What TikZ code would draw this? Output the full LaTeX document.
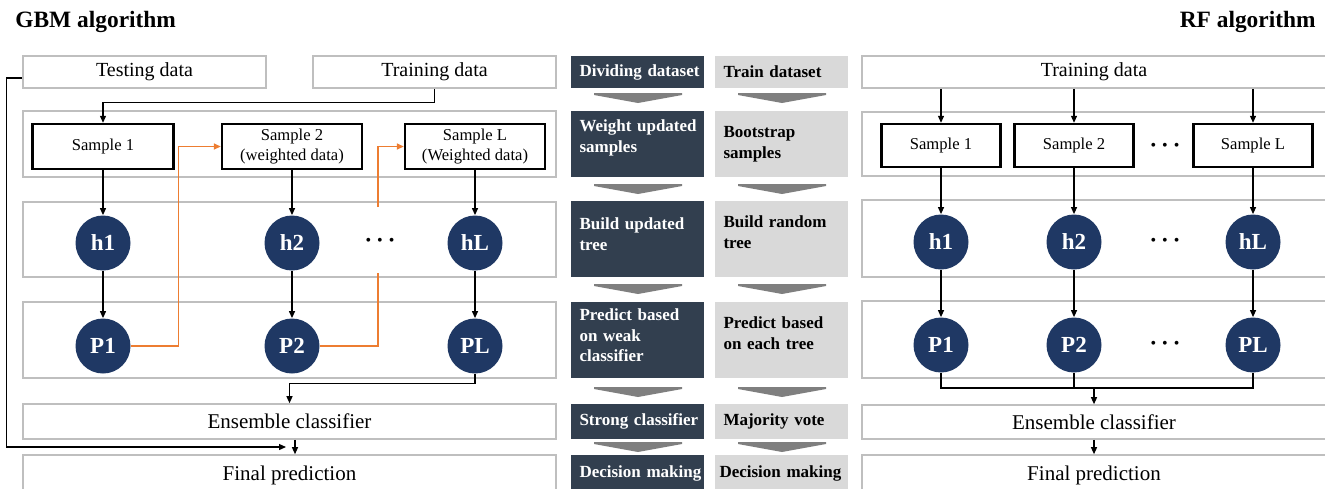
\documentclass[tikz,border=0pt]{standalone}
\usepackage{fontspec}
\setmainfont{Liberation Serif}
\usetikzlibrary{positioning}
\usetikzlibrary{arrows.meta}
\definecolor{navy}{HTML}{1F3864}
\definecolor{slate}{HTML}{323F4F}
\definecolor{lgray}{HTML}{D9D9D9}
\definecolor{pgray}{HTML}{BFBFBF}
\definecolor{orng}{HTML}{ED7D31}
\definecolor{chevgray}{HTML}{7F7F7F}
\tikzset{
    panel/.style = {rectangle, draw=pgray, line width=0.8pt, inner sep=0pt, font=\fontsize{10}{12}\selectfont},
    sample/.style = {rectangle, draw=black, line width=1.2pt, inner sep=0pt, align=center, font=\fontsize{8.3}{10}\selectfont},
    mynode/.style = {circle, fill=navy, text=white, minimum size=27.5pt, inner sep=0pt, font=\fontsize{11.5}{12}\selectfont\bfseries},
    darkbox/.style = {rectangle, fill=slate, minimum width=66.5pt, inner sep=0pt},
    lightbox/.style = {darkbox, fill=lgray},
    dtxt/.style = {text=white, inner sep=0pt, xshift=2pt, text width=62pt, align=left, font=\fontsize{8.5}{10.3}\selectfont\bfseries},
    ltxt/.style = {dtxt, text=black},
    chev/.style = {fill=chevgray, draw=none},
    dots/.style = {inner sep=0pt, font=\fontsize{8}{8}\selectfont},
    title/.style = {inner sep=0pt, font=\fontsize{11.7}{13}\selectfont\bfseries},
    edgen/.style = {-{Triangle[length=3.5pt,width=3pt]}, line width=0.6pt},
    linen/.style = {line width=0.6pt},
    edgeo/.style = {-{Triangle[length=3.5pt,width=3pt]}, line width=0.8pt, orng},
    lineo/.style = {line width=0.8pt, orng}
}
\newcommand{\bdots}{\textbullet\hspace{3pt}\textbullet\hspace{3pt}\textbullet}

\begin{document}
\begin{tikzpicture}[x=0.5pt,y=-0.5pt]
\useasboundingbox (0,0) rectangle (1325,488);
\node[title, anchor=base west] (gbm) at (15,27) {GBM algorithm};
\node[title, anchor=base east] (rf) at (1316,27) {RF algorithm};
%
% GBM side
\node[panel, minimum width=121.5pt, minimum height=16pt] (test) at (144.5,72) {Testing data};
\node[panel, minimum width=121.5pt, minimum height=16pt] (train) at (434.5,72) {Training data};
\node[panel, minimum width=266.5pt, minimum height=33pt] (grow1) at (289.5,144) {};
\node[panel, minimum width=266.5pt, minimum height=37.5pt] (grow2) at (289.5,239.5) {};
\node[panel, minimum width=266.5pt, minimum height=38pt] (grow3) at (289.5,340) {};
\node[panel, minimum width=266.5pt, minimum height=17.5pt, font=\fontsize{10.5}{12}\selectfont] (ens) at (289.5,421.5) {Ensemble classifier};
\node[panel, minimum width=266.5pt, minimum height=20pt, font=\fontsize{10.5}{12}\selectfont] (final) at (289.5,475) {Final prediction};
\node[sample, minimum width=70.5pt, minimum height=22.5pt] (s1) at (103,146.5) {Sample 1};
\node[sample, minimum width=70pt, minimum height=22.5pt] (s2) at (292,146.5) {Sample 2\\(weighted data)};
\node[sample, minimum width=70pt, minimum height=22.5pt] (sL) at (475,146.5) {Sample L\\(Weighted data)};
\node[mynode] (h1) at (103,243) {h1};
\node[mynode] (h2) at (292,243) {h2};
\node[mynode] (hL) at (475,243) {hL};
\node[dots] (gdots) at (380,242) {\bdots};
\node[mynode] (P1) at (103,346) {P1};
\node[mynode] (P2) at (292,346) {P2};
\node[mynode] (PL) at (475,346) {PL};
%
\coordinate (tend) at (286,447);
\coordinate (ogapb) at (378,273);
\coordinate (ogapt) at (378,207);
\draw[edgen] (train.south) -- ++(0,14) -| (s1.north);
\draw[edgen] ([yshift=-3pt]test.west) -- ++(-16,0) |- (tend);
\draw[edgen] (s1.south) -- (h1.north);
\draw[edgen] (s2.south) -- (h2.north);
\draw[edgen] (sL.south) -- (hL.north);
\draw[edgen] (h1.south) -- (P1.north);
\draw[edgen] (h2.south) -- (P2.north);
\draw[edgen] (hL.south) -- (PL.north);
\draw[edgeo] (P1.east) -- ++(47.5,0) |- (s2.west);
\draw[lineo] (P2.east) -| (ogapb);
\draw[edgeo] (ogapt) |- (sL.west);
\draw[edgen] (PL.south) -- ++(0,9.5) -| (ens.north);
\draw[edgen] ([xshift=2.75pt]ens.south) -- ([xshift=2.75pt]final.north);
%
% step columns
\node[darkbox, minimum height=16pt, label={[dtxt]center:Dividing dataset}] (d1) at (637.5,72) {};
\node[darkbox, minimum height=33pt, label={[dtxt, yshift=3pt]center:Weight updated\\samples}] (d2) at (637.5,144) {};
\node[darkbox, minimum height=38pt, label={[dtxt, yshift=2.3pt]center:Build updated\\tree}] (d3) at (637.5,239) {};
\node[darkbox, minimum height=38pt, label={[dtxt, yshift=2.4pt]center:Predict based\\on weak\\classifier}] (d4) at (637.5,340) {};
\node[darkbox, minimum height=17.5pt, label={[dtxt]center:Strong classifier}] (d5) at (637.5,421.5) {};
\node[darkbox, minimum height=20pt, label={[dtxt, yshift=1pt]center:Decision making}] (d6) at (637.5,475) {};
\node[lightbox, minimum height=16pt, label={[ltxt]center:Train dataset}] (l1) at (781.5,72) {};
\node[lightbox, minimum height=33pt, label={[ltxt]center:Bootstrap\\samples}] (l2) at (781.5,144) {};
\node[lightbox, minimum height=38pt, label={[ltxt, yshift=3.5pt]center:Build random\\tree}] (l3) at (781.5,239) {};
\node[lightbox, minimum height=38pt, label={[ltxt, yshift=3.5pt]center:Predict based\\on each tree}] (l4) at (781.5,340) {};
\node[lightbox, minimum height=17.5pt, label={[ltxt]center:Majority vote}] (l5) at (781.5,421.5) {};
\node[lightbox, minimum height=20pt, label={[ltxt, xshift=-2pt, yshift=1pt]center:Decision making}] (l6) at (781.5,475) {};
\foreach \y in {93,184,284,387,442} {
  \foreach \cx in {638,782} {
    \fill[chev] (\cx-44,\y) -- (\cx+44,\y) -- (\cx+44,\y+2) -- (\cx,\y+10) -- (\cx-44,\y+2) -- cycle;
  }
}
%
% RF side
\node[panel, minimum width=232pt, minimum height=16pt] (rtrain) at (1094,72) {Training data};
\node[panel, minimum width=232pt, minimum height=32pt] (rrow1) at (1094,144) {};
\node[panel, minimum width=232pt, minimum height=38.5pt] (rrow2) at (1094,238.5) {};
\node[panel, minimum width=232pt, minimum height=38.5pt] (rrow3) at (1094,339.5) {};
\node[panel, minimum width=232pt, minimum height=17pt, font=\fontsize{10.5}{12}\selectfont] (rens) at (1094,422) {Ensemble classifier};
\node[panel, minimum width=232pt, minimum height=20pt, font=\fontsize{10.5}{12}\selectfont] (rfinal) at (1094,475) {Final prediction};
\node[sample, minimum width=59.5pt, minimum height=21.5pt] (rs1) at (941,145.5) {Sample 1};
\node[sample, minimum width=59.5pt, minimum height=21.5pt] (rs2) at (1074,145.5) {Sample 2};
\node[sample, minimum width=59.5pt, minimum height=21.5pt] (rsL) at (1253,145.5) {Sample L};
\node[dots] (rdots1) at (1165,147) {\bdots};
\node[mynode] (rh1) at (941,242) {h1};
\node[mynode] (rh2) at (1074,242) {h2};
\node[mynode] (rhL) at (1253,242) {hL};
\node[dots] (rdots2) at (1165,242) {\bdots};
\node[mynode] (rP1) at (941,345) {P1};
\node[mynode] (rP2) at (1074,345) {P2};
\node[mynode] (rPL) at (1253,345) {PL};
\node[dots] (rdots3) at (1165,345) {\bdots};
%
\coordinate (rbus) at (1094,388);
\draw[edgen] (rs1.north |- rtrain.south) -- (rs1.north);
\draw[edgen] (rs2.north |- rtrain.south) -- (rs2.north);
\draw[edgen] (rsL.north |- rtrain.south) -- (rsL.north);
\draw[edgen] (rs1.south) -- (rh1.north);
\draw[edgen] (rs2.south) -- (rh2.north);
\draw[edgen] (rsL.south) -- (rhL.north);
\draw[edgen] (rh1.south) -- (rP1.north);
\draw[edgen] (rh2.south) -- (rP2.north);
\draw[edgen] (rhL.south) -- (rPL.north);
\draw[linen] (rP1.south) |- (rbus) -| (rPL.south);
\draw[linen] (rP2.south) -- (rP2.south |- rbus);
\draw[edgen] (rbus) -- (rens.north);
\draw[edgen] (rens.south) -- (rfinal.north);
\end{tikzpicture}
\end{document}
